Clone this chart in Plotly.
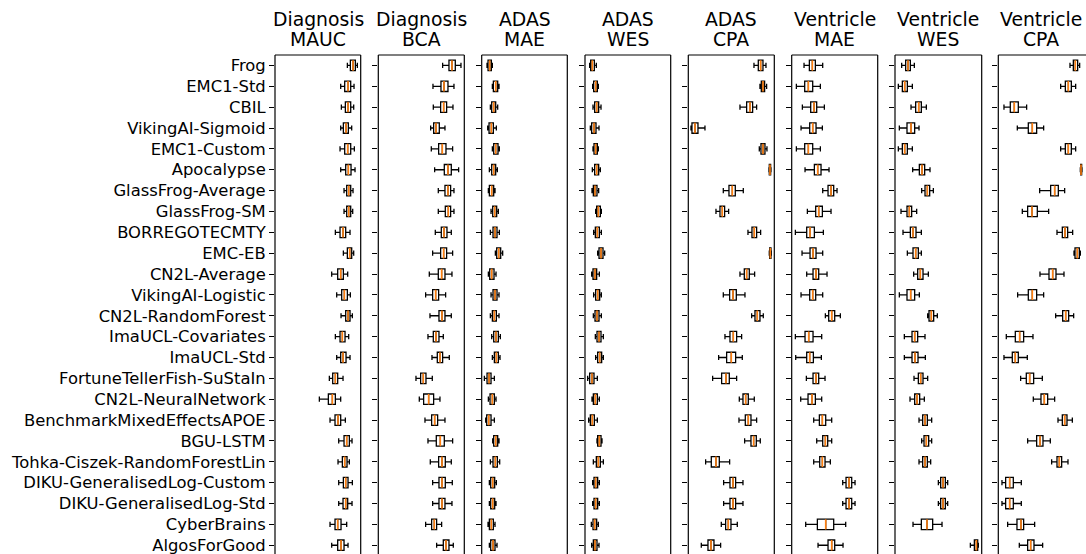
import plotly.graph_objects as go

TEAMS = ["Frog", "EMC1-Std", "CBIL", "VikingAI-Sigmoid", "EMC1-Custom", "Apocalypse",
         "GlassFrog-Average", "GlassFrog-SM", "BORREGOTECMTY", "EMC-EB", "CN2L-Average",
         "VikingAI-Logistic", "CN2L-RandomForest", "ImaUCL-Covariates", "ImaUCL-Std",
         "FortuneTellerFish-SuStaIn", "CN2L-NeuralNetwork", "BenchmarkMixedEffectsAPOE",
         "BGU-LSTM", "Tohka-Ciszek-RandomForestLin", "DIKU-GeneralisedLog-Custom",
         "DIKU-GeneralisedLog-Std", "CyberBrains", "AlgosForGood"]

TITLES = [("Diagnosis", "MAUC"), ("Diagnosis", "BCA"), ("ADAS", "MAE"), ("ADAS", "WES"),
          ("ADAS", "CPA"), ("Ventricle", "MAE"), ("Ventricle", "WES"), ("Ventricle", "CPA")]

# per-team box statistics (low whisker, q1, median, q3, high whisker), unlabelled scale
DIAG_MAUC = [(232,241,249,256,262),(212,224,234,242,252),(214,226,234,242,251),(212,220,228,235,245),
             (210,224,233,242,253),(212,227,235,243,255),(222,230,236,242,249),(222,230,236,242,248),
             (196,210,219,227,240),(220,232,239,245,251),(185,203,212,220,233),(200,215,223,232,241),
             (213,227,234,240,247),(196,210,217,225,236),(200,212,219,228,240),(178,188,196,203,219),
             (148,175,187,196,212),(180,195,204,212,226),(206,222,230,238,246),(204,217,224,231,238),
             (206,220,227,234,247),(206,219,227,233,246),(180,195,203,213,230),(185,203,213,222,234)]
DIAG_BCA = [(518,537,546,556,573),(489,513,522,534,552),(490,512,521,530,549),(482,491,498,508,525),
            (484,506,517,528,548),(494,523,534,544,566),(505,525,534,542,552),(505,526,535,542,552),
            (496,514,522,531,544),(488,512,521,530,548),(478,505,515,525,546),(467,488,497,506,527),
            (480,507,516,525,544),(474,490,498,507,520),(486,502,510,518,538),(438,452,460,468,487),
            (448,461,476,491,510),(465,485,494,503,525),(474,499,511,523,548),(481,506,516,526,544),
            (488,507,516,526,547),(488,507,516,525,546),(467,485,493,500,515),(500,520,528,537,550)]
ADAS_MAE = [(36,39,44,49,52),(52,55,62,68,72),(46,50,56,62,68),(38,42,49,55,64),
            (52,56,62,69,73),(43,50,56,62,67),(40,43,50,56,60),(48,53,59,65,70),
            (46,54,60,66,73),(61,65,71,77,83),(40,44,50,57,63),(48,54,60,66,72),
            (46,52,58,64,72),(50,56,63,70,76),(52,58,64,70,75),(28,36,42,48,58),
            (40,45,52,58,63),(32,35,41,48,58),(53,56,62,68,72),(46,54,61,67,74),
            (43,47,53,59,64),(43,47,53,59,63),(39,43,49,55,60),(43,47,54,60,66)]
ADAS_WES = [(344,347,352,358,364),(353,356,362,367,370),(354,359,365,371,378),(346,350,357,363,372),
            (354,357,362,367,370),(352,359,365,371,376),(351,355,360,366,371),(362,365,370,376,379),
            (356,361,367,373,379),(368,372,378,384,389),(350,354,360,365,373),(356,362,368,374,379),
            (355,360,366,372,379),(361,366,372,378,385),(362,368,374,380,385),(338,344,351,357,367),
            (351,355,361,367,373),(341,346,352,358,367),(366,368,373,378,381),(355,364,370,376,385),
            (353,357,362,368,373),(353,357,362,368,373),(349,354,359,365,370),(350,355,360,366,372)]
ADAS_CPA = [(222,235,242,249,258),(240,244,249,254,260),(180,200,210,218,230),(33,36,45,54,75),
            (238,243,249,255,261),(267,268,270,272,273),(130,147,157,166,190),(108,120,127,134,146),
            (204,216,223,230,242),(268,269,271,273,274),(180,193,200,208,224),(130,149,159,169,195),
            (215,225,232,240,250),(135,150,160,170,185),(116,140,154,167,187),(98,125,138,148,170),
            (178,189,197,205,223),(177,196,205,213,230),(194,213,221,229,241),(77,94,108,118,149),
            (131,150,159,167,189),(131,150,159,167,189),(124,137,145,153,172),(64,84,93,102,122)]
VENT_MAE = [(372,388,397,406,428),(349,374,385,398,421),(367,392,402,410,433),(363,389,398,408,427),
            (349,374,385,398,421),(375,403,413,423,447),(428,444,453,461,471),(382,407,416,427,453),
            (346,380,390,403,430),(366,390,399,408,428),(380,399,408,416,441),(363,389,398,407,428),
            (436,446,455,464,481),(346,375,386,399,425),(347,380,389,400,424),(379,399,408,416,435),
            (362,384,396,406,425),(401,418,427,437,455),(410,428,436,443,455),(401,419,427,435,451),
            (488,498,507,515,525),(488,498,507,515,525),(377,412,437,461,497),(414,444,455,464,489)]
VENT_WES = [(50,62,69,76,88),(40,52,59,67,82),(78,92,101,109,124),(43,66,78,89,102),
            (40,52,59,67,82),(83,103,111,119,135),(110,120,127,134,145),(48,66,73,80,95),
            (54,76,84,93,109),(67,84,92,100,109),(86,98,106,114,130),(43,66,77,89,103),
            (128,132,139,146,157),(58,81,89,98,120),(58,81,90,99,121),(87,100,107,114,128),
            (75,89,96,104,118),(102,113,120,127,140),(110,117,124,131,140),(102,113,120,127,137),
            (160,167,174,181,188),(160,167,174,181,188),(84,109,126,143,171),(256,268,274,278,280)]
VENT_CPA = [(555,565,571,578,584),(527,541,550,559,572),(357,376,388,400,425),(397,430,442,455,476),
            (527,541,550,559,572),(586,587,588,590,591),(464,497,509,520,539),(412,428,441,457,491),
            (516,532,540,548,563),(567,570,577,583,586),(465,492,503,513,537),(398,430,442,455,476),
            (512,533,542,551,566),(364,391,404,416,444),(357,382,391,400,427),(407,424,434,446,472),
            (445,468,478,488,509),(519,532,539,546,562),(428,455,465,474,496),(500,516,523,530,549),
            (351,362,374,385,409),(351,362,374,385,409),(368,396,408,416,449),(403,428,437,447,473)]

PANELS = [DIAG_MAUC, DIAG_BCA, ADAS_MAE, ADAS_WES, ADAS_CPA, VENT_MAE, VENT_WES, VENT_CPA]
XRANGES = [(15, 272), (325, 583), (20, 277), (330, 587), (25, 283), (335, 593), (30, 290), (340, 603)]

W, H = 1086, 554
PLOT_TOP = 55
LEFTS = [275, 378.3, 481.7, 585, 688.3, 791.7, 895, 998.3]
RIGHTS = [360.7, 464.3, 567.3, 670.7, 774.3, 877.7, 981.7, 1086]
FONT = "DejaVu Sans"
n = len(TEAMS)
pos = list(range(n))

fig = go.Figure()
layout = dict(width=W, height=H, margin=dict(l=0, r=0, t=0, b=0),
              plot_bgcolor="white", paper_bgcolor="white", showlegend=False,
              font=dict(family=FONT, color="black"))
shapes, annotations = [], []
for i, (stats, xr) in enumerate(zip(PANELS, XRANGES)):
    k = "" if i == 0 else str(i + 1)
    xa, ya = "x" + k, "y" + k
    lo = [s[0] for s in stats]
    q1 = [s[1] for s in stats]
    md = [s[2] for s in stats]
    q3 = [s[3] for s in stats]
    hi = [s[4] for s in stats]
    fig.add_trace(go.Box(y=pos, q1=q1, median=md, q3=q3, lowerfence=lo, upperfence=hi,
                         orientation="h", width=0.5, whiskerwidth=0.5, boxpoints=False,
                         fillcolor="white", line=dict(color="black", width=1.3),
                         xaxis=xa, yaxis=ya, hoverinfo="skip"))
    mx, my = [], []
    for j, m in enumerate(md):
        mx += [m, m, None]
        my += [j - 0.25, j + 0.25, None]
    fig.add_trace(go.Scatter(x=mx, y=my, mode="lines", line=dict(color="#ff7f0e", width=1.6),
                             xaxis=xa, yaxis=ya, hoverinfo="skip"))
    x0 = LEFTS[i] / W
    x1 = RIGHTS[i] / W
    layout["xaxis" + k] = dict(domain=[x0, x1], range=list(xr), showticklabels=False,
                               showgrid=False, zeroline=False, ticks="", anchor=ya, fixedrange=True)
    layout["yaxis" + k] = dict(domain=[0, (H - PLOT_TOP) / H], range=[n - 1 + 0.42, -0.5],
                               tickvals=pos, ticktext=TEAMS, showticklabels=(i == 0),
                               ticks="outside", ticklen=5, tickwidth=1, tickcolor="black",
                               showgrid=False, zeroline=False, anchor=xa, automargin=False,
                               ticklabeloverflow="allow", fixedrange=True,
                               tickfont=dict(size=16.4, family=FONT, color="black"))
    edges = [(0, 0, 0, 1), (0, 1, 1, 1)]
    if i < len(PANELS) - 1:
        edges.append((1, 1, 0, 1))
    for (a, b, c, d) in edges:
        shapes.append(dict(type="line", xref=xa + " domain", yref=ya + " domain",
                           x0=a, x1=b, y0=c, y1=d, line=dict(color="black", width=1.2)))
    cx = (LEFTS[i] + 43) / W
    for txt, ypx in zip(TITLES[i], (19, 39)):
        annotations.append(dict(text=txt, x=cx, y=1 - ypx / H, xref="paper", yref="paper",
                                xanchor="center", yanchor="middle", showarrow=False,
                                font=dict(size=18.8, family=FONT, color="black")))
layout["shapes"] = shapes
layout["annotations"] = annotations
fig.update_layout(**layout)
fig.write_html("out.html", config={"displayModeBar": False},
               post_script="document.body.style.margin='0';")
